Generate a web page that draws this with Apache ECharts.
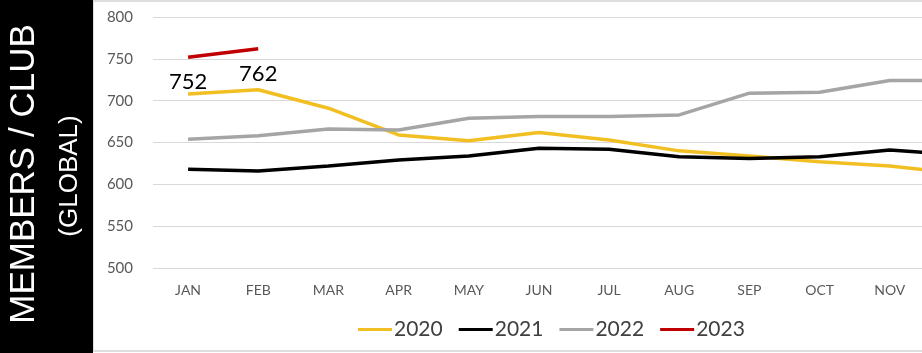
<!DOCTYPE html>
<html>
<head>
<meta charset="utf-8">
<script src="https://cdn.jsdelivr.net/npm/echarts@6/dist/echarts.min.js"></script>
<style>
html, body { margin: 0; padding: 0; background: #fff; }
#chart { width: 922px; height: 353px; }
</style>
</head>
<body>
<div id="chart"></div>
<script>
// months (DEC runs off the right edge, like the source)
const months = ['JAN', 'FEB', 'MAR', 'APR', 'MAY', 'JUN', 'JUL', 'AUG', 'SEP', 'OCT', 'NOV', 'DEC'];
const y2020 = [708, 713, 691, 659, 652, 662, 653, 640, 634, 627, 622, 613];
const y2021 = [618, 616, 622, 629, 634, 643, 642, 633, 631, 633, 641, 635];
const y2022 = [654, 658, 666, 665, 679, 681, 681, 683, 709, 710, 724, 724];
const y2023 = [752, 762, null, null, null, null, null, null, null, null, null, null];
const yTicks = { min: 500, max: 800, step: 50 };

let myChart = echarts.init(document.getElementById('chart'));

function lineSeries(name, data, color) {
    return {
        name: name,
        type: 'line',
        data: data,
        showSymbol: false,
        lineStyle: { color: color, width: 3.5 },
        itemStyle: { color: color },
        z: 2,
    };
}

let red = lineSeries('2023', y2023, '#c00000');
red.showSymbol = true;
red.symbol = 'circle';
red.symbolSize = 0;
red.label = {
    show: true,
    position: 'bottom',
    distance: 14,
    color: '#000',
    fontSize: 22,
    fontFamily: 'Lato',
};

let option = {
    backgroundColor: '#fff',
    animation: false,
    graphic: [
        {
            type: 'rect',
            shape: { x: 93, y: 1, width: 840, height: 350 },
            style: { fill: 'none', stroke: '#d4d4d4', lineWidth: 1.5 },
            z: 0,
        },
        {
            type: 'rect',
            shape: { x: 0, y: 0, width: 93, height: 353 },
            style: { fill: '#000' },
        },
        {
            type: 'text',
            x: 24,
            y: 174,
            rotation: Math.PI / 2,
            style: {
                text: 'MEMBERS / CLUB',
                fill: '#fff',
                font: '35px "Liberation Sans"',
                align: 'center',
                verticalAlign: 'middle',
            },
        },
        {
            type: 'text',
            x: 70,
            y: 176,
            rotation: Math.PI / 2,
            style: {
                text: '(GLOBAL)',
                fill: '#fff',
                font: '26px "Liberation Sans"',
                align: 'center',
                verticalAlign: 'middle',
            },
        },
    ],
    legend: {
        data: ['2020', '2021', '2022', '2023'],
        left: 353,
        top: 314,
        icon: 'rect',
        itemWidth: 34,
        itemHeight: 3,
        itemGap: 16,
        textStyle: {
            color: '#404040',
            fontSize: 21,
            fontFamily: 'Lato',
            padding: [0, 0, 0, -3],
        },
    },
    // grid runs past the canvas so DEC is cut off at the right edge
    grid: {
        left: 153,
        right: -73,
        top: 17,
        bottom: 85,
        containLabel: false,
        outerBoundsMode: 'none',
    },
    xAxis: {
        type: 'category',
        data: months,
        boundaryGap: true,
        axisLine: { show: false },
        axisTick: { show: false },
        axisLabel: {
            color: '#595959',
            fontSize: 14,
            fontFamily: 'Lato',
            margin: 15,
        },
    },
    yAxis: {
        type: 'value',
        min: yTicks.min,
        max: yTicks.max,
        interval: yTicks.step,
        axisLine: { show: false },
        axisTick: { show: false },
        axisLabel: {
            color: '#595959',
            fontSize: 15,
            fontFamily: 'Lato',
            margin: 20,
        },
        splitLine: { lineStyle: { color: '#d9d9d9', width: 1 } },
    },
    series: [
        lineSeries('2020', y2020, '#f2bf22'),
        lineSeries('2021', y2021, '#000000'),
        lineSeries('2022', y2022, '#a5a5a5'),
        red,
    ],
};

myChart.setOption(option);
</script>
</body>
</html>
